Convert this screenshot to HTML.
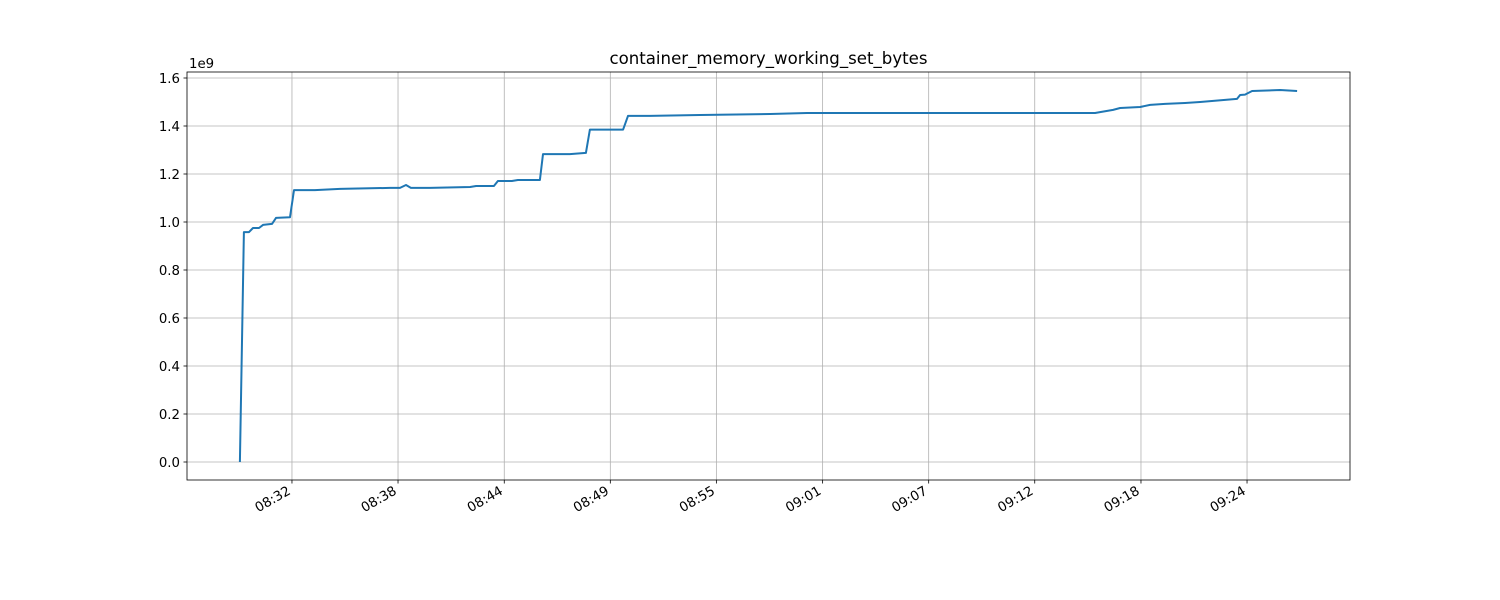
<!DOCTYPE html>
<html><head><meta charset="utf-8"><style>
body{margin:0;background:#fff;}
svg{display:block;font-family:"DejaVu Sans","Liberation Sans",sans-serif;}
</style></head><body>
<svg id="chart" width="1500" height="600" viewBox="0 0 1500 600">
<rect width="1500" height="600" fill="#fff"/>
<text x="768.5" y="64" font-size="16.6" text-anchor="middle">container_memory_working_set_bytes</text>
<text x="189" y="68" font-size="13.3">1e9</text>
<g id="grid"></g><g id="axes"></g><g id="series"></g>
</svg>
<script>
// minutes since 08:30
const times=[-0.76,-0.54,-0.26,-0.04,0.29,0.51,1.0,1.22,1.99,2.21,3.36,4.74,7.49,8.04,8.37,8.64,9.69,11.89,12.22,13.20,13.42,14.19,14.52,15.73,15.90,17.38,18.26,18.48,20.30,20.57,21.78,24.53,28.38,30.41,46.25,46.52,47.24,47.62,48.72,49.27,50.09,51.19,52.02,54.05,54.22,54.49,54.88,56.42,57.35];
const values=[0,0.958,0.958,0.975,0.975,0.988,0.992,1.017,1.02,1.133,1.133,1.138,1.142,1.142,1.154,1.142,1.142,1.146,1.15,1.15,1.171,1.171,1.175,1.175,1.283,1.283,1.288,1.385,1.385,1.442,1.442,1.446,1.450,1.454,1.454,1.458,1.467,1.475,1.479,1.488,1.492,1.496,1.5,1.513,1.529,1.531,1.546,1.55,1.546];
const xTickMinutes=[2.1,7.93,13.77,19.6,25.43,31.27,37.1,42.93,48.77,54.6];
const xTickLabels=["08:32","08:38","08:44","08:49","08:55","09:01","09:07","09:12","09:18","09:24"];
const yTicks=[0,0.2,0.4,0.6,0.8,1.0,1.2,1.4,1.6];
const L=187,R=1350,T=72,B=480;
const xMin=-3.67,xMax=60.26,yMin=-0.075,yMax=1.625;
const sx=m=>L+(m-xMin)/(xMax-xMin)*(R-L);
const sy=v=>B-(v-yMin)/(yMax-yMin)*(B-T);
const NS="http://www.w3.org/2000/svg";
function mk(tag,attrs,parent){const e=document.createElementNS(NS,tag);for(const k in attrs)e.setAttribute(k,attrs[k]);parent.appendChild(e);return e;}
const grid=document.getElementById('grid'),axes=document.getElementById('axes'),series=document.getElementById('series');
xTickMinutes.forEach((m,i)=>{
 const x=sx(m);
 const g=mk('line',{x1:x,x2:x,y1:T,y2:B,stroke:'#b0b0b0','stroke-width':0.8},grid);
 
 
 const t=mk('line',{x1:x,x2:x,y1:B,y2:B+3.5,stroke:'#000','stroke-width':0.8},axes);
 
 
 const lx=x-3;
 const lb=mk('text',{x:lx,y:B+14,'font-size':13.3,'text-anchor':'end',transform:`rotate(-30 ${lx} ${B+9})`},axes);
 lb.textContent=xTickLabels[i];
 
 
});
yTicks.forEach(v=>{
 const y=sy(v);
 const g=mk('line',{x1:L,x2:R,y1:y,y2:y,stroke:'#b0b0b0','stroke-width':0.8},grid);
 
 
 const t=mk('line',{x1:L-3.5,x2:L,y1:y,y2:y,stroke:'#000','stroke-width':0.8},axes);
 
 
 const lb=mk('text',{x:L-7,y:y+5,'font-size':13.3,'text-anchor':'end'},axes);
 lb.textContent=v.toFixed(1);
 
 
});
const frame=mk('rect',{x:L,y:T,width:R-L,height:B-T,fill:'none',stroke:'#000','stroke-width':0.8},axes);


const pts=times.map((m,i)=>sx(m).toFixed(1)+','+sy(values[i]).toFixed(1)).join(' ');
const line=mk('polyline',{points:pts,fill:'none',stroke:'#1f77b4','stroke-width':2,'stroke-linejoin':'round'},series);


</script>
</body></html>
